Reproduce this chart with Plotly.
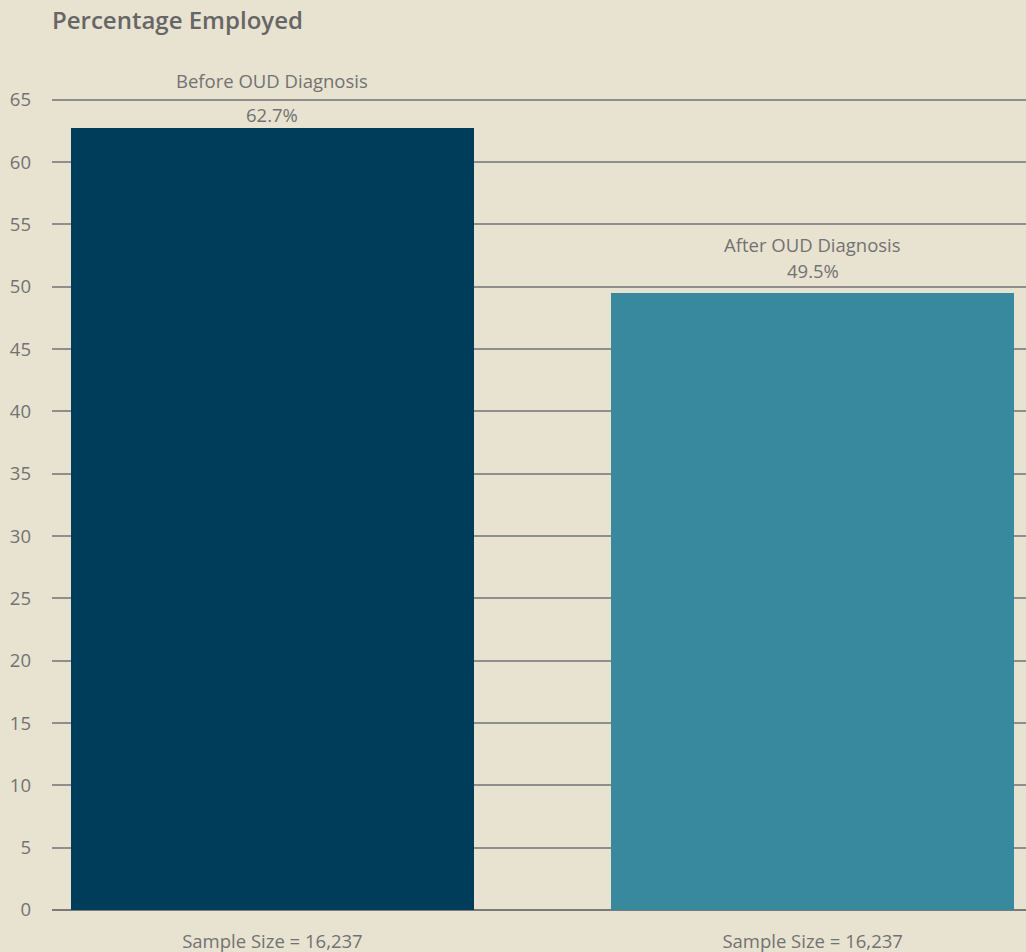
import plotly.graph_objects as go

categories = ["Before OUD Diagnosis", "After OUD Diagnosis"]
values = [62.7, 49.5]
sample_labels = ["Sample Size = 16,237", "Sample Size = 16,237"]
colors = ["#003d5b", "#38899e"]
value_shifts = [14, 22]

xpos = list(range(len(categories)))

fig = go.Figure()
fig.add_trace(go.Bar(
    x=xpos, y=values, width=0.746,
    marker=dict(color=colors, line=dict(width=0)),
    hoverinfo="skip",
))

label_font = dict(family="Open Sans", size=18.5, color="#727272")
for xi, c, v, s in zip(xpos, categories, values, value_shifts):
    fig.add_annotation(x=xi, y=v, text=f"{v}%", showarrow=False,
                       yanchor="middle", yshift=s, font=label_font)
    fig.add_annotation(x=xi, y=v, text=c, showarrow=False,
                       yanchor="middle", yshift=48, font=label_font)

fig.update_layout(
    width=1026, height=952,
    paper_bgcolor="#e8e2d0", plot_bgcolor="#e8e2d0",
    margin=dict(l=52, r=0, t=96, b=42),
    font=dict(family="Open Sans", color="#727272", size=18.5),
    title=dict(text="Percentage Employed", x=52/1026, xanchor="left",
               y=1 - 21/952, yanchor="middle",
               font=dict(family="Open Sans", size=24, weight=600, color="#666666")),
    showlegend=False,
    bargap=0,
)
fig.update_xaxes(range=[-0.408, 1.395], tickvals=xpos, ticktext=sample_labels,
                 showgrid=False, zeroline=False, showline=False, ticks="",
                 tickfont=dict(size=18.5, color="#727272"), ticklabelstandoff=18)
fig.update_yaxes(range=[0, 65.3], tickvals=list(range(0, 70, 5)),
                 showgrid=True, gridcolor="#8e8e8e",
                 gridwidth=2, zeroline=True, zerolinecolor="#7a7a7a", zerolinewidth=2,
                 showline=False, ticks="", ticklabelstandoff=20,
                 tickfont=dict(size=18.5, color="#727272"))

fig.write_html("out.html", config={"displayModeBar": False},
               post_script="document.body.style.margin='0px';document.body.style.overflow='hidden';")
